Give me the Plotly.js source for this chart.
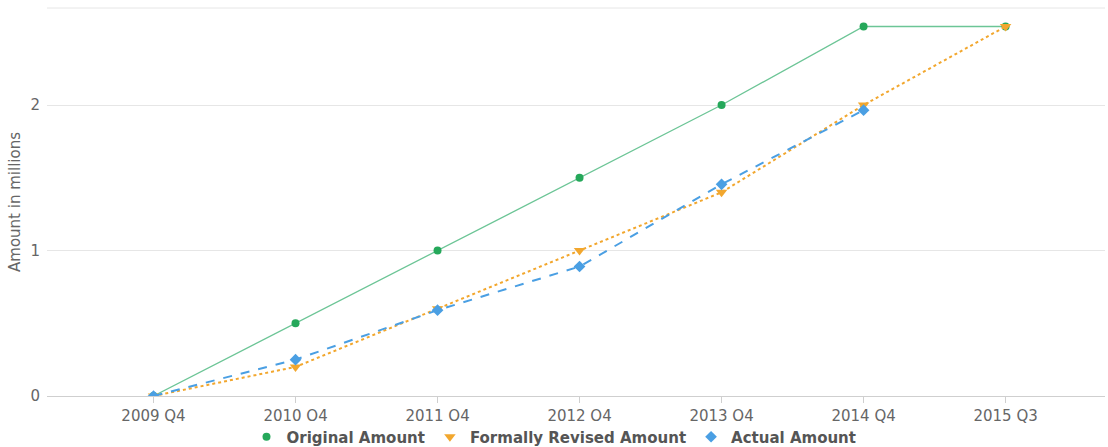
<!DOCTYPE html>
<html><head><meta charset="utf-8">
<script src="https://cdn.plot.ly/plotly-3.0.1.min.js"></script>
<style>html,body{margin:0;padding:0;background:#fff}#chart{width:1108px;height:447px}</style>
</head><body><div id="chart"></div>
<script>
const categories = ["2009 Q4","2010 Q4","2011 Q4","2012 Q4","2013 Q4","2014 Q4","2015 Q3"];
const originalAmount = [0, 0.5, 1.0, 1.5, 2.0, 2.54, 2.54];
const revisedAmount = [0, 0.2, 0.6, 1.0, 1.4, 2.0, 2.54];
const actualAmount = [0, 0.25, 0.59, 0.89, 1.455, 1.965];
const yTicks = [0, 1, 2];
const seriesNames = ["Original Amount", "Formally Revised Amount", "Actual Amount"];

const green = "#25a85a", orange = "#f2a72e", blue = "#4a9fe3";
const traces = [
  {x: categories, y: originalAmount, name: seriesNames[0], type: "scatter", mode: "lines+markers", showlegend: false,
   line: {color: "#6cc596", width: 1.3}, marker: {symbol: "circle", size: 8, color: green}},
  {x: categories, y: revisedAmount, name: seriesNames[1], type: "scatter", mode: "lines+markers", showlegend: false,
   line: {color: orange, width: 2, dash: "dot"}, marker: {symbol: "triangle-down", size: 10, color: orange}},
  {x: categories.slice(0, actualAmount.length), y: actualAmount, name: seriesNames[2], type: "scatter", mode: "lines+markers", showlegend: false,
   line: {color: blue, width: 2, dash: "dash"}, marker: {symbol: "diamond", size: 9, color: blue}},
  // legend-only entries (marker symbols only, like the reference legend)
  {x: [null], y: [null], name: seriesNames[0], type: "scatter", mode: "markers", marker: {symbol: "circle", size: 8, color: green}},
  {x: [null], y: [null], name: seriesNames[1], type: "scatter", mode: "markers", marker: {symbol: "triangle-down", size: 10, color: orange}},
  {x: [null], y: [null], name: seriesNames[2], type: "scatter", mode: "markers", marker: {symbol: "diamond", size: 9, color: blue}}
];

const layout = {
  width: 1108, height: 447,
  margin: {l: 47, r: 3, t: 8, b: 51},
  paper_bgcolor: "#fff", plot_bgcolor: "#fff",
  font: {family: "DejaVu Sans, sans-serif", color: "#666", size: 15},
  showlegend: true,
  legend: {orientation: "h", x: 0.5, xanchor: "center", xref: "container",
           y: 10/447, yanchor: "middle", yref: "container",
           font: {size: 15, color: "#555", weight: "bold"}, itemwidth: 30, tracegroupgap: 0},
  xaxis: {type: "category", range: [-0.75, 6.7], showgrid: false, zeroline: false, automargin: false,
          showline: true, linecolor: "#cfcfcf", linewidth: 1, ticks: "outside", ticklen: 6,
          tickcolor: "#cfcfcf", tickfont: {size: 15, color: "#666"}, fixedrange: true},
  yaxis: {range: [0, 2.667], tickvals: yTicks, ticktext: yTicks.map(String), showgrid: true, automargin: false,
          gridcolor: "#e6e6e6", zeroline: false, showline: false, ticks: "",
          tickfont: {size: 15, color: "#666"}, ticklabelstandoff: 6,
          title: {text: "Amount in millions", font: {size: 15, color: "#666"}, standoff: 6}},
  shapes: [{type: "line", xref: "paper", yref: "paper", x0: 0, x1: 1, y0: 1, y1: 1,
            line: {color: "#e6e6e6", width: 1}}]
};
Plotly.newPlot("chart", traces, layout, {displayModeBar: false, staticPlot: true});
</script></body></html>
